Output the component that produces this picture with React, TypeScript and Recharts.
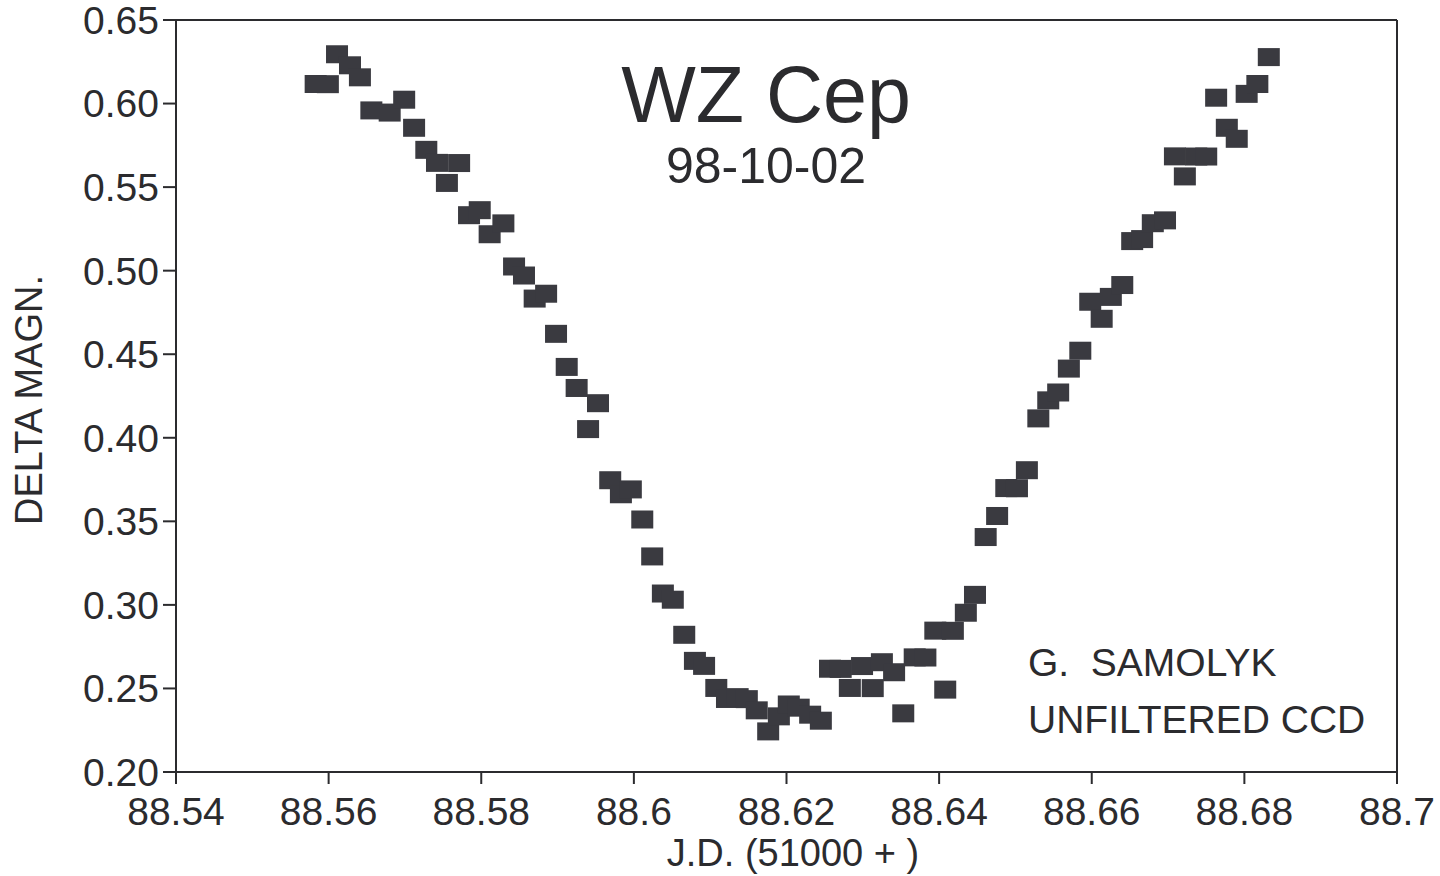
import React from "react";
import {
  ScatterChart,
  Scatter,
  XAxis,
  YAxis,
  ReferenceLine,
} from "recharts";

// J.D. - 2451000
const jd = [
  88.5583, 88.5599, 88.5611, 88.5628, 88.5641, 88.5656, 88.568, 88.5699, 88.5712, 88.5728,
  88.5742, 88.5771, 88.5755, 88.5784, 88.5798, 88.5811, 88.5829, 88.5843, 88.5856, 88.587,
  88.5885, 88.5898, 88.5912, 88.5925, 88.5953, 88.594, 88.5969, 88.5983, 88.5996, 88.6011,
  88.6024, 88.6038, 88.6051, 88.6066, 88.608, 88.6092, 88.6108, 88.6122, 88.6136, 88.6148,
  88.6161, 88.6176, 88.619, 88.6203, 88.6216, 88.6231, 88.6245, 88.6257, 88.6271, 88.6283,
  88.6299, 88.6313, 88.6325, 88.6341, 88.6353, 88.6368, 88.6382, 88.6395, 88.6408, 88.6418,
  88.6435, 88.6447, 88.6461, 88.6476, 88.6488, 88.6502, 88.6515, 88.653, 88.6543, 88.6556,
  88.657, 88.6585, 88.6598, 88.6613, 88.6625, 88.664, 88.6653, 88.6666, 88.668, 88.6696,
  88.6709, 88.6722, 88.6737, 88.675, 88.6763, 88.6777, 88.679, 88.6803, 88.6817, 88.6832,
];

const deltaMag = [
  0.6117, 0.6116, 0.6295, 0.6229, 0.6157, 0.5959, 0.5946, 0.6023, 0.5855, 0.5723,
  0.5645, 0.5644, 0.5525, 0.5332, 0.5362, 0.5218, 0.5283, 0.5025, 0.4971, 0.4833,
  0.4862, 0.4622, 0.4424, 0.4298, 0.4207, 0.4052, 0.3746, 0.3662, 0.3691, 0.3511,
  0.329, 0.3068, 0.3031, 0.2821, 0.2665, 0.2635, 0.2503, 0.2437, 0.2448, 0.2436,
  0.2369, 0.2243, 0.2333, 0.2404, 0.2385, 0.2343, 0.2307, 0.2618, 0.2617, 0.2503,
  0.2634, 0.2502, 0.2657, 0.2597, 0.2351, 0.2686, 0.2685, 0.2846, 0.2493, 0.2845,
  0.2953, 0.306, 0.3406, 0.3532, 0.3699, 0.3698, 0.3806, 0.4116, 0.4224, 0.4271,
  0.4414, 0.4521, 0.4814, 0.4712, 0.4843, 0.4914, 0.5177, 0.5189, 0.5284, 0.5301,
  0.5684, 0.5564, 0.5683, 0.5683, 0.6035, 0.5855, 0.5789, 0.6058, 0.6117, 0.6278,
];

const xTicks = [88.54, 88.56, 88.58, 88.6, 88.62, 88.64, 88.66, 88.68, 88.7];
const yTicks = [0.2, 0.25, 0.3, 0.35, 0.4, 0.45, 0.5, 0.55, 0.6, 0.65];

const data = jd.map((x, i) => ({ x, y: deltaMag[i] }));

const FONT = "'Liberation Sans', Arial, Helvetica, sans-serif";
const INK = "#2b2b2e";
const MARK = "#3a3a40";

const tick = { fontSize: 39, fill: INK, fontFamily: FONT };

const Square = (props: any) => {
  const { cx, cy } = props;
  if (cx == null || cy == null) return null;
  return <rect x={cx - 11} y={cy - 9} width={22} height={18} fill={MARK} />;
};

export default function App() {
  return (
    <div style={{ position: "relative", width: 1440, height: 876, background: "#fff" }}>
      <style>{"body{margin:0;background:#fff}"}</style>
      <ScatterChart
        width={1440}
        height={876}
        margin={{ top: 20, right: 43, bottom: 0, left: 0 }}
      >
        <XAxis
          type="number"
          dataKey="x"
          domain={[88.54, 88.7]}
          ticks={xTicks}
          allowDataOverflow
          height={104}
          tick={tick}
          tickSize={12}
          tickMargin={13}
          interval={0}
          stroke={INK}
          strokeWidth={2}
        />
        <YAxis
          type="number"
          dataKey="y"
          domain={[0.2, 0.65]}
          ticks={yTicks}
          allowDataOverflow
          width={176}
          tick={tick}
          tickSize={13}
          tickMargin={4}
          interval={0}
          tickFormatter={(v: number) => v.toFixed(2)}
          stroke={INK}
          strokeWidth={2}
        />
        <ReferenceLine y={0.65} stroke={INK} strokeWidth={2} />
        <ReferenceLine x={88.7} stroke={INK} strokeWidth={2} />
        <Scatter data={data} shape={Square} isAnimationActive={false} />
      </ScatterChart>
      <svg
        width={1440}
        height={876}
        style={{ position: "absolute", left: 0, top: 0, pointerEvents: "none" }}
        fontFamily={FONT}
        fill={INK}
      >
        <text x={766} y={122} fontSize={79} textAnchor="middle">WZ Cep</text>
        <text x={766} y={183} fontSize={50} textAnchor="middle">98-10-02</text>
        <text x={1028} y={676} fontSize={39} style={{ whiteSpace: "pre" }}>G.  SAMOLYK</text>
        <text x={1028} y={733} fontSize={39}>UNFILTERED CCD</text>
        <text x={793} y={866} fontSize={38} textAnchor="middle">J.D. (51000 + )</text>
        <text
          x={42}
          y={400}
          fontSize={38}
          textAnchor="middle"
          transform="rotate(-90 42 400)"
        >
          DELTA MAGN.
        </text>
      </svg>
    </div>
  );
}
